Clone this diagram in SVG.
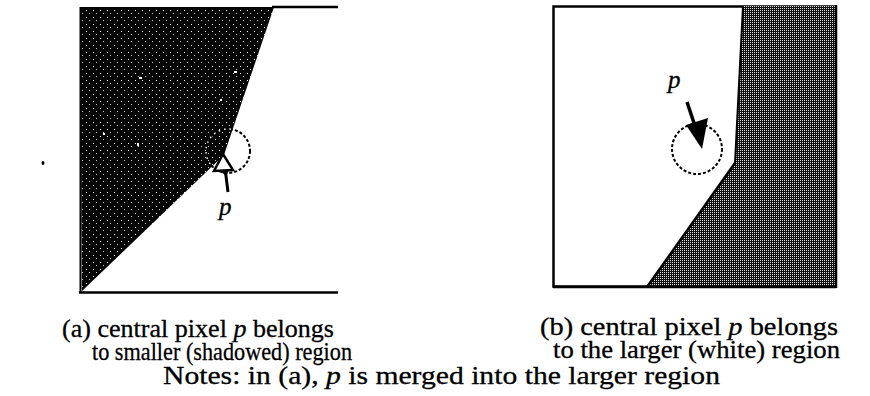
<svg xmlns="http://www.w3.org/2000/svg" width="870" height="396" viewBox="0 0 870 396">
  <defs>
    <pattern id="darkA" patternUnits="userSpaceOnUse" x="0" y="0" width="7" height="7">
      <rect width="7" height="7" fill="#050505"/>
      <rect x="2" y="3" width="1" height="1" fill="#ffffff"/>
      <rect x="5" y="6" width="1" height="1" fill="#cccccc"/>
    </pattern>
    <pattern id="darkB" patternUnits="userSpaceOnUse" x="0" y="0" width="2" height="2">
      <rect width="2" height="2" fill="#111111"/>
      <rect x="0" y="0" width="1" height="1" fill="#e0e0e0"/>
    </pattern>
    <clipPath id="clipDarkA">
      <polygon points="80,7 274,7 224,155 82,291"/>
    </clipPath>
    <style>
      .frame { fill: none; stroke: #000; stroke-width: 2.5; }
      .dash { fill: none; stroke: #000; stroke-width: 2; stroke-dasharray: 3 2; }
      .dashw { fill: none; stroke: #fff; stroke-width: 1.5; stroke-dasharray: 1.5 4; }
      .label { font-family: "Liberation Serif", "Times New Roman", serif; font-size: 26px; fill: #000; stroke: #000; stroke-width: 0.3; }
      .var { font-family: "Liberation Serif", "Times New Roman", serif; font-style: italic; font-size: 25px; fill: #000; stroke: #000; stroke-width: 0.3; }
    </style>
  </defs>

  <rect width="870" height="396" fill="#ffffff"/>

  <g id="panel-a">
    <polygon points="80,7 274,7 224,155 82,291" fill="url(#darkA)"/>
    <line x1="272" y1="7" x2="338" y2="7" stroke="#000" stroke-width="2.5"/>
    <line x1="79" y1="292.5" x2="338" y2="292.5" stroke="#000" stroke-width="2.5"/>
    <line x1="80.5" y1="7" x2="80.5" y2="292" stroke="#000" stroke-width="2"/>
    <g fill="#fff">
      <rect x="139" y="77" width="3" height="2"/>
      <rect x="234" y="71" width="3" height="2"/>
      <rect x="103" y="133" width="2" height="2"/>
      <rect x="137" y="143" width="2" height="3"/>
      <rect x="220" y="99" width="2" height="2"/>
    </g>
  </g>

  <g id="node-circle-a">
    <circle class="dash" cx="228" cy="151" r="22"/>
    <circle class="dashw" cx="228" cy="151" r="22" clip-path="url(#clipDarkA)"/>
  </g>

  <g id="panel-b">
    <rect class="frame" x="553.5" y="6.5" width="282" height="280"/>
    <polygon points="743,6 836,6 836,287 647,287 735,163" fill="url(#darkB)"/>
    <line x1="743" y1="6" x2="735" y2="163" stroke="#000" stroke-width="2"/>
    <line x1="735" y1="163" x2="647" y2="287" stroke="#000" stroke-width="2.5"/>
    <line x1="836" y1="5" x2="836" y2="288" stroke="#000" stroke-width="2.5"/>
    <line x1="553" y1="287" x2="836" y2="287" stroke="#000" stroke-width="2.5"/>
  </g>

  <g id="node-circle-b">
    <circle class="dash" cx="697" cy="149" r="25"/>
  </g>

  <g id="connectors">
    <line x1="228" y1="192" x2="225" y2="168" stroke="#000" stroke-width="3"/>
    <polygon points="223,154 214,171 233,170" fill="#fff" stroke="#000" stroke-width="2.5" stroke-linejoin="miter"/>
    <polygon points="219,170 229,170 226,176" fill="#000"/>
    <line x1="687" y1="102" x2="695" y2="126" stroke="#000" stroke-width="3.5"/>
    <polygon points="702,149 686,125 708,118" fill="#000"/>
  </g>

  <g id="labels">
    <text class="var" x="219" y="215">p</text>
    <text class="var" x="668" y="88">p</text>
    <text class="label" x="62" y="337" textLength="272" lengthAdjust="spacingAndGlyphs">(a) central  pixel <tspan font-style="italic">p</tspan> belongs</text>
    <text class="label" x="92" y="360" textLength="260" lengthAdjust="spacingAndGlyphs">to smaller (shadowed) region</text>
    <text class="label" x="540" y="335" textLength="298" lengthAdjust="spacingAndGlyphs">(b) central pixel <tspan font-style="italic">p</tspan> belongs</text>
    <text class="label" x="553" y="358" textLength="287" lengthAdjust="spacingAndGlyphs">to the larger (white) region</text>
    <text class="label" x="163" y="384" textLength="557" lengthAdjust="spacingAndGlyphs">Notes: in (a), <tspan font-style="italic">p</tspan> is merged into the larger region</text>
  </g>
  <ellipse cx="43" cy="163" rx="1.5" ry="2" fill="#000"/>
</svg>
